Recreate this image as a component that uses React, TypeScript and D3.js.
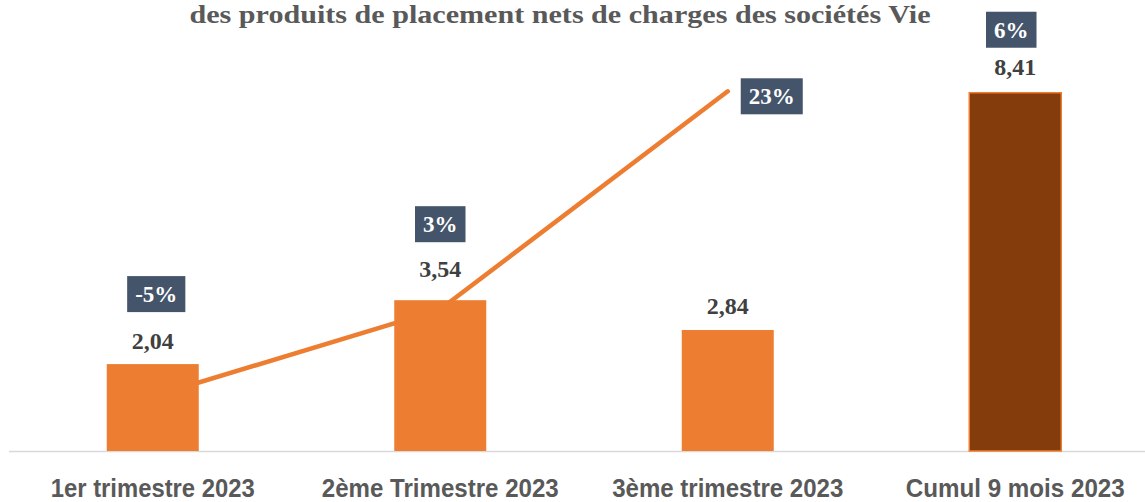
import React, { useRef, useEffect } from 'react';
import * as d3 from 'd3';

const categories = ['1er trimestre 2023', '2ème Trimestre 2023', '3ème trimestre 2023', 'Cumul 9 mois 2023'];
const amounts = [2.04, 3.54, 2.84, 8.41];
const amountLabels = ['2,04', '3,54', '2,84', '8,41'];
const growth = [-5, 3, 23, 6];
const growthLabels = ['-5%', '3%', '23%', '6%'];
const titleText = 'des produits de placement nets de charges des sociétés Vie';

const W = 1145;
const H = 502;

const App = () => {
    const svgRef = useRef<SVGSVGElement | null>(null);

    useEffect(() => {
        document.body.style.margin = '0';
        const svg = d3.select(svgRef.current);
        svg.selectAll('*').remove();

        const base = 451;
        const x = d3.scaleBand<string>()
            .domain(categories)
            .range([9, 1159])
            .paddingInner(0.68)
            .paddingOuter(0.34);
        const cx = (c: string) => (x(c) as number) + x.bandwidth() / 2;

        const y = d3.scaleLinear().domain([0, 10]).range([base, 25]);
        const yPct = d3.scaleLinear().domain([-10, 30]).range([base, 15]);

        // title (first line is cut off above the frame)
        svg.append('text')
            .attr('x', 560)
            .attr('y', 23)
            .attr('text-anchor', 'middle')
            .attr('font-family', '"Liberation Serif", "Times New Roman", serif')
            .attr('font-weight', 'bold')
            .attr('font-size', 25)
            .attr('fill', '#595959')
            .attr('textLength', 741)
            .attr('lengthAdjust', 'spacingAndGlyphs')
            .text(titleText);

        // axis line
        svg.append('line')
            .attr('x1', 9).attr('x2', W)
            .attr('y1', base + 0.5).attr('y2', base + 0.5)
            .attr('stroke', '#D9D9D9')
            .attr('stroke-width', 1.5);

        // growth line, drawn behind the bars (only the three quarters)
        const line = d3.line<number>()
            .x((_, i) => cx(categories[i]))
            .y((d) => yPct(d));
        svg.append('path')
            .attr('d', line(growth.slice(0, 3)))
            .attr('fill', 'none')
            .attr('stroke', '#ED7D31')
            .attr('stroke-width', 4.5)
            .attr('stroke-linecap', 'round')
            .attr('stroke-linejoin', 'round');

        // bars
        svg.append('g')
            .selectAll('rect')
            .data(amounts)
            .join('rect')
            .attr('x', (_, i) => x(categories[i]) as number)
            .attr('y', (d) => y(d))
            .attr('width', x.bandwidth())
            .attr('height', (d) => base - y(d))
            .attr('fill', (_, i) => (i === 3 ? '#843C0C' : '#ED7D31'))
            .attr('stroke', (_, i) => (i === 3 ? '#ED7D31' : 'none'))
            .attr('stroke-width', 1.5);

        // value labels
        const valueShift = [1.5, -6, 1, -1];
        svg.append('g')
            .selectAll('text')
            .data(amounts)
            .join('text')
            .attr('x', (_, i) => cx(categories[i]))
            .attr('y', (d, i) => y(d) - 17 + valueShift[i])
            .attr('text-anchor', 'middle')
            .attr('font-family', '"Liberation Serif", "Times New Roman", serif')
            .attr('font-weight', 'bold')
            .attr('font-size', 24)
            .attr('fill', '#404040')
            .text((_, i) => amountLabels[i]);

        // growth labels in boxes
        const pctShift: [number, number][] = [[3.5, 0], [0, -6], [0, 0], [-4, 7]];
        growth.forEach((g, i) => {
            let px = cx(categories[i]);
            let py = y(amounts[i]) - 70;
            if (i === 2) {
                px = cx(categories[i]) + 44;
                py = yPct(g) + 5;
            }
            px += pctShift[i][0];
            py += pctShift[i][1];
            const grp = svg.append('g');
            const rect = grp.append('rect').attr('fill', '#44546A');
            const t = grp.append('text')
                .attr('x', px)
                .attr('y', py)
                .attr('dy', '0.35em')
                .attr('text-anchor', 'middle')
                .attr('font-family', '"Liberation Serif", "Times New Roman", serif')
                .attr('font-weight', 'bold')
                .attr('font-size', 23)
                .attr('fill', '#FFFFFF')
                .text(growthLabels[i]);
            const tw = (t.node() as SVGTextElement).getComputedTextLength();
            const bw = tw + 16;
            rect.attr('x', px - bw / 2).attr('y', py - 18).attr('width', bw).attr('height', 36);
        });

        // category labels
        const catWidths = [204, 237, 231, 219];
        svg.append('g')
            .selectAll('text')
            .data(categories)
            .join('text')
            .attr('x', (d) => cx(d))
            .attr('y', 497)
            .attr('text-anchor', 'middle')
            .attr('font-family', '"Liberation Sans Narrow", "Liberation Sans", Arial, sans-serif')
            .attr('font-weight', 'bold')
            .attr('font-size', 25)
            .attr('fill', '#595959')
            .attr('textLength', (_, i) => catWidths[i])
            .attr('lengthAdjust', 'spacingAndGlyphs')
            .text((d) => d);
    }, []);

    return <svg ref={svgRef} width={W} height={H} style={{ display: 'block' }}></svg>;
};

export default App;
